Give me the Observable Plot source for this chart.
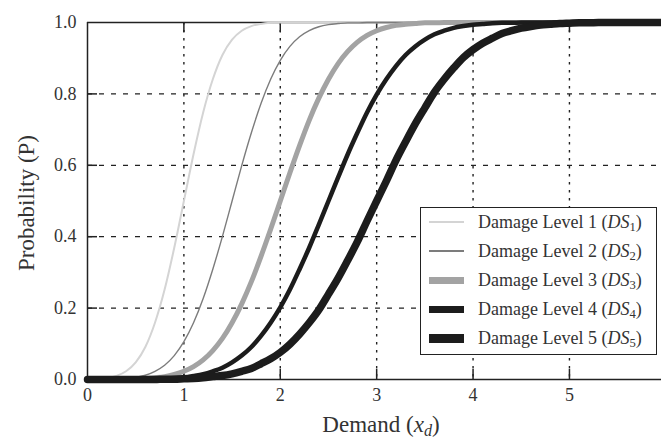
<!DOCTYPE html>
<html>
<head>
<meta charset="utf-8">
<script src="https://cdn.jsdelivr.net/npm/d3@7"></script>
<script src="https://cdn.jsdelivr.net/npm/@observablehq/plot@0.6"></script>
<style>
  body { margin: 0; background: #fff; }
  #wrap { position: relative; width: 661px; height: 440px; overflow: hidden; background: #fff;
          font-family: "Liberation Serif", "Times New Roman", "DejaVu Serif", serif; color: #333; }
  #wrap svg { position: absolute; left: 0; top: 0; }
  #legend { position: absolute; left: 420px; top: 207px; width: 237px; height: 148px; box-sizing: border-box;
            border: 1.5px solid #222; background: #fff; }
  .row { position: absolute; left: 0; width: 100%; height: 24px; margin-top: -12px; }
  .swatch { position: absolute; left: 8px; width: 35px; top: 50%; }
  .ltxt { position: absolute; left: 57px; top: 0; line-height: 24px; font-size: 18px; white-space: nowrap; color: #333; }
  .ltxt sub, .xlab sub { font-size: 0.7em; vertical-align: -0.25em; line-height: 0; }
  .xlab { position: absolute; left: 381px; top: 425px; transform: translate(-50%, -50%); font-size: 23px; white-space: nowrap; }
  .ylab { position: absolute; left: 27px; top: 203px; transform: translate(-50%, -50%) rotate(-90deg); font-size: 23px; white-space: nowrap; }
</style>
</head>
<body>
<div id="wrap"></div>
<script>
// ---- data ----
const demand = [0,0.1,0.2,0.3,0.4,0.5,0.6,0.7,0.8,0.9,1.0,1.1,1.2,1.3,1.4,1.5,1.6,1.7,1.8,1.9,2.0,2.1,2.2,2.3,2.4,2.5,2.6,2.7,2.8,2.9,3.0,3.1,3.2,3.3,3.4,3.5,3.6,3.7,3.8,3.9,4.0,4.1,4.2,4.3,4.4,4.5,4.6,4.7,4.8,4.9,5.0,5.1,5.2,5.3,5.4,5.5,5.6,5.7,5.8,5.9,6.0];
const ds1 = [0,0.001,0.004,0.010,0.023,0.048,0.091,0.159,0.252,0.369,0.500,0.631,0.748,0.841,0.909,0.952,0.977,0.990,0.996,0.999,1,1,1,1,1,1,1,1,1,1,1,1,1,1,1,1,1,1,1,1,1,1,1,1,1,1,1,1,1,1,1,1,1,1,1,1,1,1,1,1,1];
const ds2 = [0,0,0.001,0.001,0.003,0.006,0.012,0.023,0.040,0.067,0.106,0.159,0.227,0.309,0.401,0.500,0.599,0.691,0.773,0.841,0.894,0.933,0.960,0.977,0.988,0.994,0.997,0.999,0.999,1,1,1,1,1,1,1,1,1,1,1,1,1,1,1,1,1,1,1,1,1,1,1,1,1,1,1,1,1,1,1,1];
const ds3 = [0,0,0,0,0.001,0.001,0.003,0.005,0.008,0.014,0.023,0.036,0.055,0.081,0.115,0.159,0.212,0.274,0.345,0.421,0.500,0.579,0.655,0.726,0.788,0.841,0.885,0.919,0.945,0.964,0.977,0.986,0.992,0.995,0.997,0.999,0.999,1,1,1,1,1,1,1,1,1,1,1,1,1,1,1,1,1,1,1,1,1,1,1,1];
const ds4 = [0,0,0,0,0,0,0.001,0.001,0.002,0.004,0.006,0.010,0.015,0.023,0.033,0.048,0.067,0.091,0.122,0.159,0.202,0.252,0.309,0.369,0.434,0.500,0.566,0.631,0.691,0.748,0.798,0.841,0.878,0.909,0.933,0.952,0.967,0.977,0.985,0.990,0.994,0.996,0.998,0.999,0.999,1,1,1,1,1,1,1,1,1,1,1,1,1,1,1,1];
const ds5 = [0,0,0,0,0,0,0,0,0.001,0.001,0.002,0.003,0.005,0.008,0.011,0.016,0.023,0.031,0.044,0.058,0.076,0.099,0.127,0.159,0.195,0.239,0.284,0.334,0.386,0.444,0.500,0.556,0.614,0.666,0.716,0.761,0.805,0.841,0.873,0.902,0.924,0.942,0.956,0.969,0.977,0.984,0.989,0.993,0.995,0.997,0.998,0.999,0.999,1,1,1,1,1,1,1,1];
const seriesNames = ["DS1", "DS2", "DS3", "DS4", "DS5"];
const legendLabels = ["Damage Level 1", "Damage Level 2", "Damage Level 3", "Damage Level 4", "Damage Level 5"];
const xTicks = [0, 1, 2, 3, 4, 5];
const yTicks = [0, 0.2, 0.4, 0.6, 0.8, 1.0];
const xGrid = [1, 2, 3, 4, 5];
const yGrid = [0.2, 0.4, 0.6, 0.8];

// ---- styles ----
const lineStyles = [
  {stroke: "#d4d4d4", width: 2},
  {stroke: "#7c7c7c", width: 1.4},
  {stroke: "#a3a3a3", width: 5},
  {stroke: "#1c1c1c", width: 4.5},
  {stroke: "#1c1c1c", width: 7.5}
];
const swatchWidths = [2, 2, 7, 7, 9];

const allSeries = [ds1, ds2, ds3, ds4, ds5];
const table = [];
seriesNames.forEach((s, k) => demand.forEach((x, i) => table.push({x, p: allSeries[k][i], s})));

const W = 661, H = 440, ML = 87, MR = 0, MT = 22, MB = 61;
const frameW = W - ML - MR, frameH = H - MT - MB;
const tickLen = 10;
const ink = "#222";

const plot = Plot.plot({
  width: W, height: H,
  marginLeft: ML, marginRight: MR, marginTop: MT, marginBottom: MB,
  style: {fontFamily: '"Liberation Serif", "Times New Roman", "DejaVu Serif", serif', fontSize: "18px", color: "#333", background: "transparent"},
  x: {domain: [0, 5.955], label: null},
  y: {domain: [0, 1], label: null},
  marks: [
    Plot.ruleX(xGrid, {stroke: ink, strokeWidth: 1.4, strokeDasharray: "2.5,5.5"}),
    Plot.ruleY(yGrid, {stroke: ink, strokeWidth: 1.3, strokeDasharray: "5,7"}),
    Plot.tickX(xGrid, {x: d => d, insetTop: frameH - tickLen, stroke: ink, strokeWidth: 1.5}),
    Plot.tickX(xGrid, {x: d => d, insetBottom: frameH - tickLen, stroke: ink, strokeWidth: 1.5}),
    Plot.tickY(yGrid, {y: d => d, insetRight: frameW - tickLen, stroke: ink, strokeWidth: 1.5}),
    Plot.ruleY([0, 1], {stroke: ink, strokeWidth: 1.5}),
    Plot.ruleX([0], {stroke: ink, strokeWidth: 1.5}),
    ...seriesNames.map((s, k) => Plot.line(table.filter(d => d.s === s), {
      x: "x", y: "p", curve: "monotone-x",
      stroke: lineStyles[k].stroke, strokeWidth: lineStyles[k].width
    })),
    Plot.axisX(xTicks, {tickSize: 0, tickPadding: 9, tickFormat: d3.format("d"), label: null}),
    Plot.axisY(yTicks, {tickSize: 0, tickPadding: 11, tickFormat: d3.format(".1f"), label: null})
  ]
});

const wrap = document.getElementById("wrap");
wrap.appendChild(plot);

// axis titles
const xl = document.createElement("div");
xl.className = "xlab";
xl.innerHTML = "Demand (<i>x</i><sub><i>d</i></sub>)";
wrap.appendChild(xl);
const yl = document.createElement("div");
yl.className = "ylab";
yl.textContent = "Probability (P)";
wrap.appendChild(yl);

// legend
const lg = document.createElement("div");
lg.id = "legend";
const rowTops = [14, 43, 72, 101, 130];
seriesNames.forEach((s, k) => {
  const r = document.createElement("div");
  r.className = "row";
  r.style.top = rowTops[k] + "px";
  const sw = document.createElement("div");
  sw.className = "swatch";
  sw.style.height = swatchWidths[k] + "px";
  sw.style.marginTop = (-swatchWidths[k] / 2) + "px";
  sw.style.background = lineStyles[k].stroke;
  r.appendChild(sw);
  const t = document.createElement("div");
  t.className = "ltxt";
  t.innerHTML = legendLabels[k] + " (<i>DS</i><sub>" + s.slice(2) + "</sub>)";
  r.appendChild(t);
  lg.appendChild(r);
});
wrap.appendChild(lg);
</script>
</body>
</html>
